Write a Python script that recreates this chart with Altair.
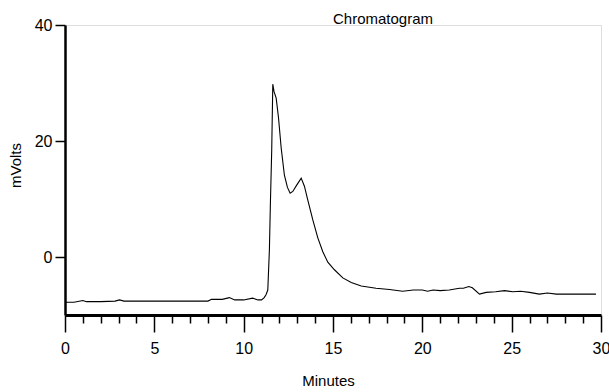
import altair as alt
import pandas as pd

minutes = [0, 0.5, 1.0, 1.2, 2.0, 2.8, 3.05, 3.3, 4, 5, 6, 7, 8, 8.2, 8.8, 9.2, 9.5, 10, 10.5, 10.8,
           11.0, 11.15, 11.25, 11.35, 11.44, 11.5, 11.57, 11.63, 11.7, 11.82, 11.95, 12.1, 12.28,
           12.45, 12.6, 12.75, 12.95, 13.22, 13.4, 13.59, 13.87, 14.15, 14.43, 14.71, 15.08, 15.55,
           16.02, 16.58, 17.41, 18.16, 18.9, 19.5, 20.0, 20.3, 20.6, 21.0, 21.5, 22.08, 22.3, 22.6,
           22.8, 23.2, 23.57, 24.1, 24.6, 25.06, 25.5, 26.0, 26.55, 27.0, 27.5, 28.5, 29.72]
mvolts = [-7.8, -7.8, -7.5, -7.7, -7.7, -7.6, -7.4, -7.6, -7.6, -7.6, -7.6, -7.6, -7.6, -7.3, -7.3,
          -7.0, -7.4, -7.4, -7.1, -7.4, -7.4, -7.0, -6.5, -5.7, 1.2, 9.8, 18.4, 29.8, 28.5, 27.4,
          24.0, 18.8, 14.1, 12.0, 11.0, 11.3, 12.3, 13.6, 12.2, 9.8, 6.4, 3.3, 0.9, -0.9, -2.2, -3.6,
          -4.4, -5.0, -5.4, -5.6, -5.9, -5.7, -5.7, -5.9, -5.7, -5.8, -5.7, -5.4, -5.4, -5.1, -5.3,
          -6.4, -6.1, -6.0, -5.8, -6.0, -5.9, -6.1, -6.4, -6.2, -6.4, -6.4, -6.4]
x_ticks = list(range(0, 31))
y_ticks = [0, 20, 40]

df = pd.DataFrame({"t": minutes, "v": mvolts})

FONT = "Liberation Sans"

chart = alt.Chart(df).mark_line(color="black", strokeWidth=1.1).encode(
    x=alt.X("t:Q", scale=alt.Scale(domain=[0, 30], nice=False, zero=False),
            axis=alt.Axis(values=x_ticks, grid=False, domainWidth=3, domainColor="black",
                          tickColor="black", tickWidth=1.5,
                          tickSize={"condition": {"test": "datum.value % 5 === 0", "value": 17}, "value": 8},
                          labelExpr="datum.value % 5 === 0 ? datum.label : ''",
                          labelFont=FONT, labelFontSize=16, labelColor="black",
                          labelPadding=8, labelFlush=False, labelOverlap=False,
                          title="Minutes", titleFont=FONT, titleFontSize=15, titleFontWeight="normal",
                          titleColor="black", titleX=263, titleY=65, titleBaseline="middle")),
    y=alt.Y("v:Q", scale=alt.Scale(domain=[-10, 40], nice=False, zero=False),
            axis=alt.Axis(values=y_ticks, grid=False, domainWidth=2.5, domainColor="black",
                          tickColor="black", tickWidth=1.5, tickSize=10,
                          labelFont=FONT, labelFontSize=16, labelColor="black", labelPadding=3,
                          title="mVolts", titleFont=FONT, titleFontSize=15, titleFontWeight="normal",
                          titleColor="black", titleX=-50, titleY=140, titleAngle=-90,
                          titleAlign="center", titleBaseline="middle")),
).properties(
    width=536, height=290,
    title=alt.TitleParams("Chromatogram", anchor="start", frame="group", dx=268, dy=17,
                          font=FONT, fontSize=15, fontWeight="normal", color="black",
                          baseline="middle", offset=0),
    autosize=alt.AutoSizeParams(type="none"),
    padding={"left": 65, "top": 25, "right": 8, "bottom": 77},
).configure_view(stroke=None).configure(background="white")

chart.save("out.html", embed_options={"renderer": "svg", "actions": False})
